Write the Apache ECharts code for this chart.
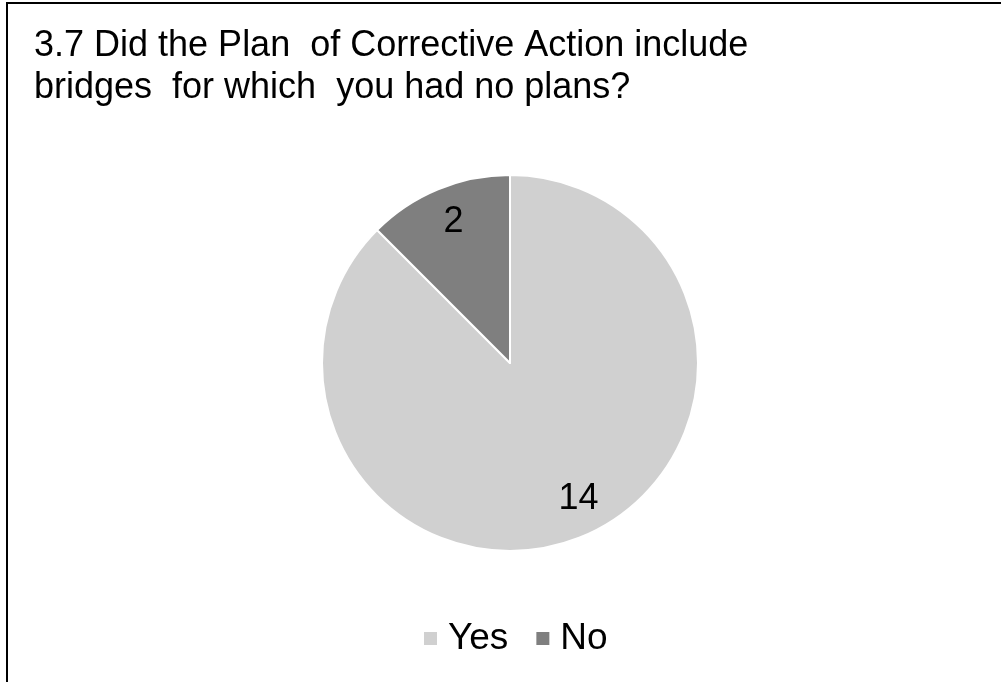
<!DOCTYPE html>
<html>
<head>
<meta charset="utf-8">
<script src="https://cdn.jsdelivr.net/npm/echarts@6/dist/echarts.min.js"></script>
<style>
  html, body { margin: 0; padding: 0; background: #fff; }
  #chart { width: 1001px; height: 682px; }
</style>
</head>
<body>
<div id="chart"></div>
<script>
const titleLines = ['3.7 Did the Plan  of Corrective Action include', 'bridges  for which  you had no plans?'];
const categories = ['Yes', 'No'];
const counts = [14, 2];
const sliceColors = ['#d0d0d0', '#7f7f7f'];

const FONT = '"Liberation Sans", Arial, sans-serif';
// nudges for the value labels (pixels)
const labelNudge = [[10, -5], [2, 0]];

const pieData = categories.map((name, i) => ({
  name: name,
  value: counts[i],
  itemStyle: { color: sliceColors[i] }
}));

const chart = echarts.init(document.getElementById('chart'), null, { renderer: 'canvas' });
chart.setOption({
  backgroundColor: '#ffffff',
  animation: false,
  title: {
    text: titleLines.join('\n'),
    left: 29,
    top: 20,
    textStyle: { fontFamily: FONT, fontSize: 36, fontWeight: 'normal', color: '#000', lineHeight: 42 }
  },
  legend: {
    data: categories,
    left: 422,
    top: 620,
    padding: 0,
    icon: 'rect',
    itemWidth: 15,
    itemHeight: 15,
    itemGap: 26,
    textStyle: { fontFamily: FONT, fontSize: 37, color: '#000', padding: [0, 0, 0, 5] }
  },
  graphic: [{
    type: 'rect',
    shape: { x: 7, y: 3, width: 1010, height: 700 },
    style: { fill: 'none', stroke: '#000', lineWidth: 2 },
    silent: true,
    z: 10
  }],
  series: [
    {
      type: 'pie',
      center: [510, 363],
      radius: [0, 188],
      startAngle: 90,
      clockwise: true,
      label: { show: false },
      labelLine: { show: false },
      itemStyle: { borderColor: '#fff', borderWidth: 2 },
      data: pieData,
      silent: true
    },
    {
      // Invisible companion ring that places the value labels near the rim
      type: 'pie',
      center: [510, 363],
      radius: [0, 300],
      startAngle: 90,
      clockwise: true,
      itemStyle: { color: 'rgba(0,0,0,0)' },
      label: {
        show: true,
        position: 'inside',
        formatter: '{c}',
        fontFamily: FONT,
        fontSize: 36,
        color: '#000'
      },
      labelLine: { show: false },
      data: categories.map((name, i) => ({
        name: name,
        value: counts[i],
        label: { offset: labelNudge[i] }
      })),
      silent: true,
      z: 3
    }
  ]
});
</script>
</body>
</html>
